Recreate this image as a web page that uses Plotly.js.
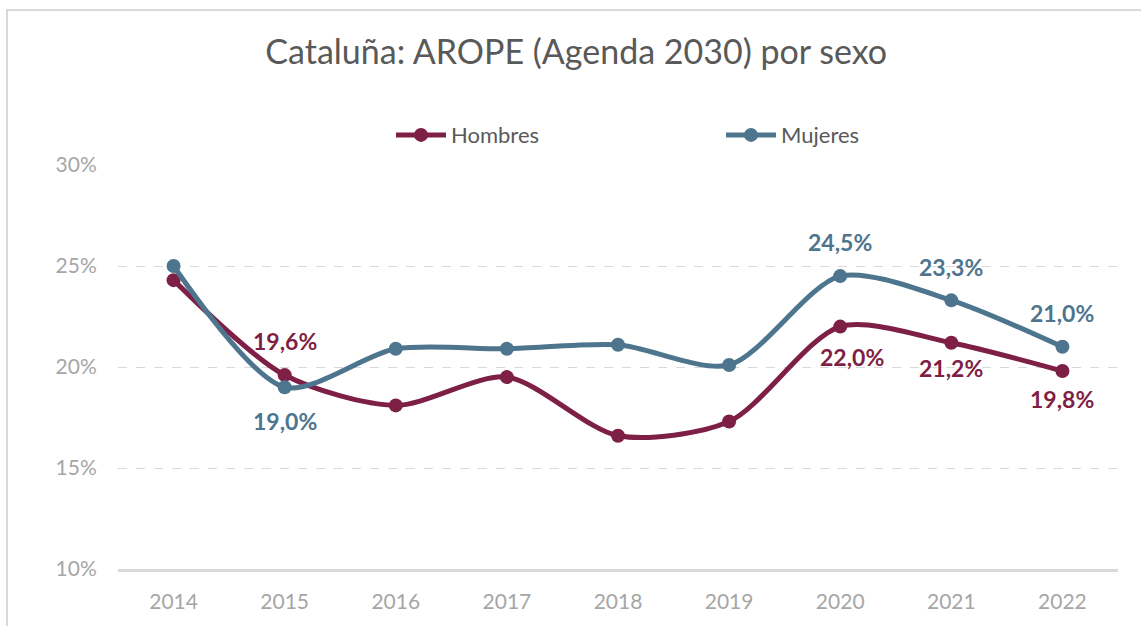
<!DOCTYPE html>
<html><head><meta charset="utf-8">
<script src="https://cdn.plot.ly/plotly-3.0.1.min.js"></script>
<style>
html,body{margin:0;padding:0;background:#fff;}
#wrap{position:relative;width:1141px;height:626px;overflow:hidden;}
#chart{position:absolute;left:0;top:0;width:1141px;height:626px;}
#frame{position:absolute;left:6px;top:9px;width:1200px;height:700px;border-top:2px solid #d9d9d9;border-left:2px solid #d9d9d9;pointer-events:none;}
</style></head>
<body><div id="wrap"><div id="chart"></div><div id="frame"></div></div>
<script>
const years = ['2014','2015','2016','2017','2018','2019','2020','2021','2022'];
const hombres = [24.3, 19.6, 18.1, 19.5, 16.6, 17.3, 22.0, 21.2, 19.8];
const mujeres = [25.0, 19.0, 20.9, 20.9, 21.1, 20.1, 24.5, 23.3, 21.0];
// data-label placement per point (pixel offset above the point; 0 = no label)
const hombresLabelShift = [0, 34, 0, 0, 0, 0, -30, -25, -28];
const mujeresLabelShift = [0, -34, 0, 0, 0, 0, 34, 33, 34];
const tickVals = [10, 15, 20, 25, 30];
const tickText = ['10%', '15%', '20%', '25%', '30%'];

const cH = '#7e1f45', cM = '#4e758e';
const FONT = 'Lato, "Open Sans", sans-serif';
const fmt = v => v.toFixed(1).replace('.', ',') + '%';

function trace(name, ys, color) {
  return {x: years, y: ys, name: name, type: 'scatter', mode: 'lines+markers',
    line: {color: color, width: 5, shape: 'spline', smoothing: 0.8},
    marker: {color: color, size: 14}};
}
const annotations = [];
function addLabels(ys, shifts, color) {
  ys.forEach((v, i) => {
    if (!shifts[i]) return;
    annotations.push({x: i, y: v, xref: 'x', yref: 'y', text: fmt(v), showarrow: false,
      yshift: shifts[i], xshift: (i === 6 && shifts[i] < 0) ? 12 : 0,
      font: {family: FONT, size: 23, color: color, weight: 700}});
  });
}
addLabels(hombres, hombresLabelShift, cH);
addLabels(mujeres, mujeresLabelShift, cM);

const data = [trace('Hombres', hombres, cH), trace('Mujeres', mujeres, cM)];
const layout = {
  width: 1141, height: 626,
  margin: {l: 118, r: 23, t: 165, b: 57},
  paper_bgcolor: '#fff', plot_bgcolor: '#fff',
  font: {family: FONT, color: '#595959'},
  title: {text: 'Cataluña: AROPE (Agenda 2030) por sexo', x: 0.505, xanchor: 'center',
    y: 0.917, yanchor: 'middle', font: {family: FONT, size: 34, color: '#595959'}},
  showlegend: true,
  legend: {orientation: 'h', x: 0.273, xanchor: 'left', y: 1.074, yanchor: 'middle',
    entrywidth: 265, entrywidthmode: 'pixels', itemwidth: 50,
    font: {family: FONT, size: 22, color: '#595959'}, bgcolor: 'rgba(0,0,0,0)'},
  xaxis: {type: 'category', range: [-0.5, 8.5], showgrid: false, zeroline: false,
    showline: true, linecolor: '#d9d9d9', linewidth: 3,
    ticks: 'outside', ticklen: 12, tickcolor: 'rgba(0,0,0,0)',
    tickfont: {family: FONT, size: 21, color: '#a6a6a6'}, fixedrange: true},
  yaxis: {range: [10, 30], tickvals: tickVals, ticktext: tickText, showline: false, zeroline: false,
    showgrid: true, gridcolor: '#d9d9d9', griddash: 'dash', gridwidth: 1,
    ticks: 'outside', ticklen: 16, tickcolor: 'rgba(0,0,0,0)',
    tickfont: {family: FONT, size: 21, color: '#a6a6a6'}, fixedrange: true},
  annotations: annotations
};
Plotly.newPlot('chart', data, layout, {displayModeBar: false, staticPlot: true});
</script></body></html>
